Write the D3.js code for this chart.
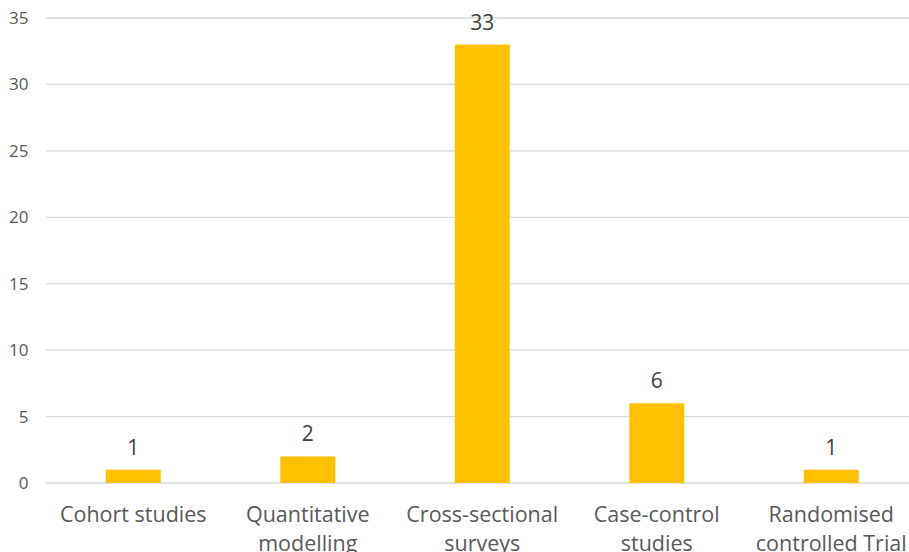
<!DOCTYPE html>
<html>
<head>
<meta charset="utf-8">
<script src="https://cdn.jsdelivr.net/npm/d3@7"></script>
<style>
  body { margin: 0; background: #fff; }
  svg { display: block; font-family: "Open Sans", sans-serif; }
</style>
</head>
<body>
<div id="chart"></div>
<script>
/********** Data **********/
var categories = [
  ["Cohort studies"],
  ["Quantitative", "modelling"],
  ["Cross-sectional", "surveys"],
  ["Case-control", "studies"],
  ["Randomised", "controlled Trial"]
]
var counts = [1, 2, 33, 6, 1]
var yTicks = [0, 5, 10, 15, 20, 25, 30, 35]

var width = 909, height = 552

var svg = d3.select("#chart").append("svg")
    .attr("width", width)
    .attr("height", height)

// scales
var x = d3.scaleBand()
    .domain(d3.range(counts.length))
    .range([46, 918.5])
    .paddingInner(0.685)
    .paddingOuter(0.3425)

var y = d3.scaleLinear()
    .domain([0, 35])
    .range([483, 18])

// gridlines
svg.append("g")
  .selectAll("line")
  .data(yTicks)
  .enter().append("line")
    .attr("x1", 46)
    .attr("x2", width)
    .attr("y1", function(d) { return y(d) })
    .attr("y2", function(d) { return y(d) })
    .attr("stroke", "#d9d9d9")
    .attr("stroke-width", 1.3)

// y axis labels
var yAxis = svg.append("g")
    .attr("transform", "translate(28.5,0)")
    .call(d3.axisLeft(y).tickValues(yTicks).tickSize(0).tickPadding(0))
yAxis.select(".domain").remove()
yAxis.selectAll("text")
    .style("font-family", "'Open Sans', sans-serif")
    .style("font-size", "17px")
    .attr("fill", "#595959")

// bars
svg.append("g")
  .selectAll("rect")
  .data(counts)
  .enter().append("rect")
    .attr("x", function(d, i) { return x(i) })
    .attr("width", x.bandwidth())
    .attr("y", function(d) { return y(d) })
    .attr("height", function(d) { return y(0) - y(d) })
    .attr("fill", "#ffc000")

// value labels
svg.append("g")
  .selectAll("text")
  .data(counts)
  .enter().append("text")
    .attr("x", function(d, i) { return x(i) + x.bandwidth() / 2 })
    .attr("y", function(d) { return y(d) - 15 })
    .attr("text-anchor", "middle")
    .style("font-size", "21px")
    .attr("fill", "#404040")
    .text(function(d) { return d })

// category labels
var cat = svg.append("g")
  .selectAll("text")
  .data(categories)
  .enter().append("text")
    .attr("x", function(d, i) { return x(i) + x.bandwidth() / 2 })
    .attr("y", 522)
    .attr("text-anchor", "middle")
    .style("font-size", "21.5px")
    .attr("fill", "#595959")
cat.selectAll("tspan")
  .data(function(d) { return d })
  .enter().append("tspan")
    .attr("x", function() { return d3.select(this.parentNode).attr("x") })
    .attr("dy", function(d, i) { return i === 0 ? 0 : 29 })
    .text(function(d) { return d })
</script>
</body>
</html>
